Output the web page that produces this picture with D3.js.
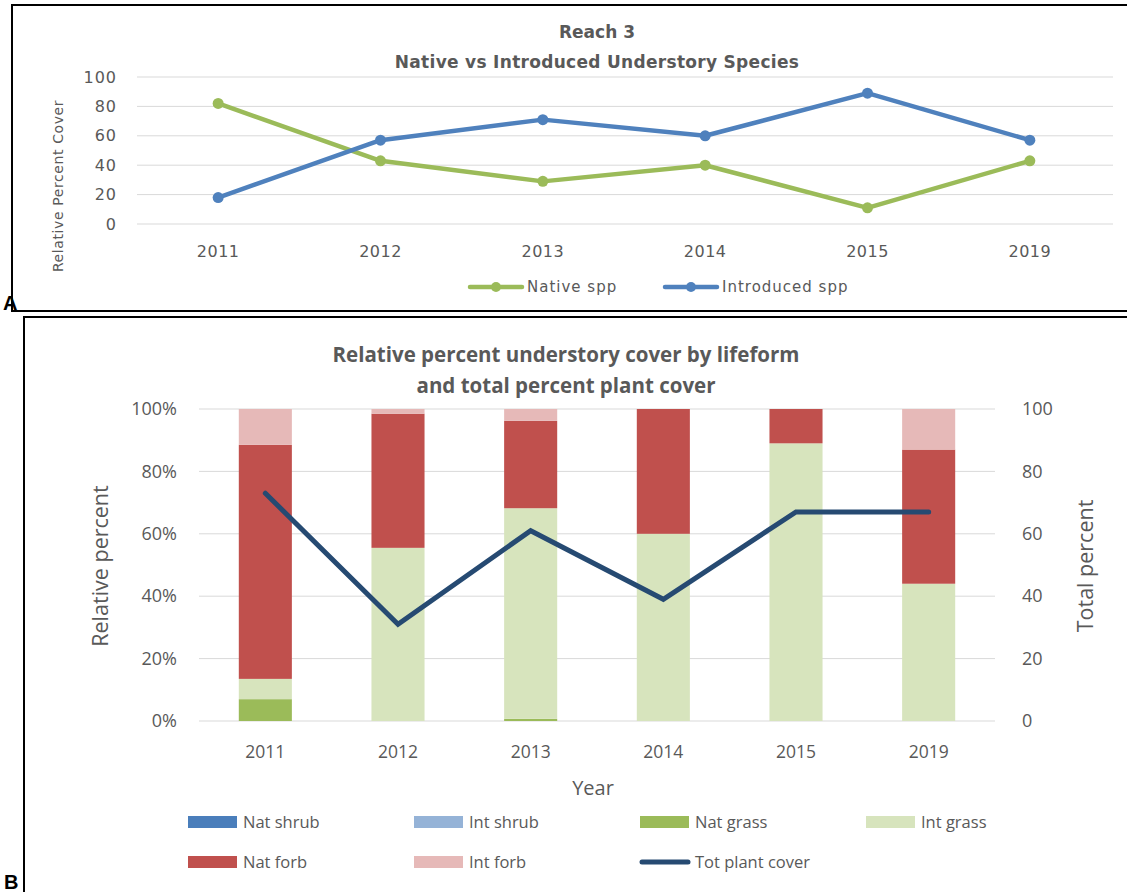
<!DOCTYPE html>
<html>
<head>
<meta charset="utf-8">
<script src="https://cdn.jsdelivr.net/npm/d3@7"></script>
<style>
  body { margin: 0; background: #fff; }
  svg { display: block; }
  .panel-a text { font-family: "DejaVu Sans", sans-serif; fill: #595959; }
  .panel-b text { font-family: "Open Sans", sans-serif; fill: #595959; }
</style>
</head>
<body>
<svg id="chart" width="1127" height="892"></svg>
<script>
// Panel A data
const years = ["2011", "2012", "2013", "2014", "2015", "2019"];
const nativeSpp = [82, 43, 29, 40, 11, 43];
const introducedSpp = [18, 57, 71, 60, 89, 57];
const topTicks = [0, 20, 40, 60, 80, 100];

// Panel B data (relative percent, stacked bottom to top)
const lifeforms = ["Nat shrub", "Int shrub", "Nat grass", "Int grass", "Nat forb", "Int forb"];
const natShrub = [0, 0, 0, 0, 0, 0];
const intShrub = [0, 0, 0, 0, 0, 0];
const natGrass = [7, 0, 0.7, 0, 0, 0];
const intGrass = [6.5, 55.5, 67.5, 60, 89, 44];
const natForb = [75, 43, 28, 40, 11, 43];
const intForb = [11.5, 1.5, 3.8, 0, 0, 13];
const totPlantCover = [73, 31, 61, 39, 67, 67];
const leftTicks = [0, 0.2, 0.4, 0.6, 0.8, 1];
const rightTicks = [0, 20, 40, 60, 80, 100];

const lifeColors = ["#4a7ebb", "#95b3d7", "#9bbb59", "#d7e4bd", "#c0504d", "#e6b9b8"];
const grid = "#d9d9d9";

const svg = d3.select("#chart");

// panel frames
svg.append("rect").attr("x", 12).attr("y", 5).attr("width", 1130).attr("height", 306)
  .attr("fill", "none").attr("stroke", "#000").attr("stroke-width", 2);
svg.append("rect").attr("x", 24).attr("y", 317).attr("width", 1120).attr("height", 600)
  .attr("fill", "none").attr("stroke", "#000").attr("stroke-width", 2);
svg.append("text").attr("x", 3).attr("y", 310).text("A")
  .attr("font-family", "Liberation Sans, Arial, sans-serif").attr("font-weight", "bold").attr("font-size", 20);
svg.append("text").attr("x", 4).attr("y", 889).text("B")
  .attr("font-family", "Liberation Sans, Arial, sans-serif").attr("font-weight", "bold").attr("font-size", 20);

// ---------- Panel A ----------
const panelA = svg.append("g").attr("class", "panel-a");

const xA = d3.scaleBand().domain(years).range([137, 1111]);
const yA = d3.scaleLinear().domain([0, 100]).range([224, 77]);
const cx = d => xA(d) + xA.bandwidth() / 2;

panelA.append("g").selectAll("line").data(topTicks).join("line")
  .attr("x1", 137).attr("x2", 1113)
  .attr("y1", d => yA(d)).attr("y2", d => yA(d))
  .attr("stroke", grid).attr("stroke-width", 1);

panelA.append("text").attr("x", 597).attr("y", 38).attr("text-anchor", "middle")
  .attr("font-weight", "bold").attr("font-size", 17).text("Reach 3");
panelA.append("text").attr("x", 597).attr("y", 68).attr("text-anchor", "middle")
  .attr("font-weight", "bold").attr("font-size", 17).attr("letter-spacing", 0.3)
  .text("Native vs Introduced Understory Species");

const yAxisA = panelA.append("g").attr("transform", "translate(137,0)")
  .call(d3.axisLeft(yA).tickValues(topTicks).tickSize(0).tickPadding(20));
yAxisA.select(".domain").remove();
yAxisA.selectAll("text").attr("font-size", 16).attr("letter-spacing", 1)
  .attr("font-family", null).attr("fill", null);

const xAxisA = panelA.append("g").attr("transform", "translate(0,224)")
  .call(d3.axisBottom(xA).tickSize(0).tickPadding(22));
xAxisA.select(".domain").remove();
xAxisA.selectAll("text").attr("font-size", 16).attr("letter-spacing", 0.5)
  .attr("font-family", null).attr("fill", null);

panelA.append("text").attr("transform", "translate(63,186) rotate(-90)")
  .attr("text-anchor", "middle").attr("font-size", 14).attr("letter-spacing", 0.6)
  .text("Relative Percent Cover");

const lineA = d3.line().x((d, i) => cx(years[i])).y(d => yA(d));
const seriesA = [
  { name: "Native spp", values: nativeSpp, color: "#9bbb59", lx: 470 },
  { name: "Introduced spp", values: introducedSpp, color: "#4f81bd", lx: 665 }
];
seriesA.forEach(s => {
  panelA.append("path").datum(s.values).attr("d", lineA)
    .attr("fill", "none").attr("stroke", s.color).attr("stroke-width", 4.5)
    .attr("stroke-linejoin", "round");
  panelA.append("g").selectAll("circle").data(s.values).join("circle")
    .attr("cx", (d, i) => cx(years[i])).attr("cy", d => yA(d)).attr("r", 5.5)
    .attr("fill", s.color);
  // legend
  panelA.append("line").attr("x1", s.lx).attr("x2", s.lx + 52).attr("y1", 287).attr("y2", 287)
    .attr("stroke", s.color).attr("stroke-width", 4.5).attr("stroke-linecap", "round");
  panelA.append("circle").attr("cx", s.lx + 26).attr("cy", 287).attr("r", 5).attr("fill", s.color);
  panelA.append("text").attr("x", s.lx + 57).attr("y", 287).attr("dy", "0.35em")
    .attr("font-size", 15).attr("letter-spacing", 1).text(s.name);
});

// ---------- Panel B ----------
const panelB = svg.append("g").attr("class", "panel-b");

const xB = d3.scaleBand().domain(years).range([199, 995]);
const yB = d3.scaleLinear().domain([0, 1]).range([721, 409]);
const yR = d3.scaleLinear().domain([0, 100]).range([721, 409]);
const barW = xB.bandwidth() * 0.4;

panelB.append("g").selectAll("line").data(leftTicks).join("line")
  .attr("x1", 199).attr("x2", 995)
  .attr("y1", d => yB(d)).attr("y2", d => yB(d))
  .attr("stroke", grid).attr("stroke-width", 1);

panelB.append("text").attr("x", 566).attr("y", 362).attr("text-anchor", "middle")
  .attr("font-weight", "bold").attr("font-size", 20.5).text("Relative percent understory cover by lifeform");
panelB.append("text").attr("x", 566).attr("y", 393).attr("text-anchor", "middle")
  .attr("font-weight", "bold").attr("font-size", 20.5).text("and total percent plant cover");

// stacked bars
const rows = years.map((y, i) => ({
  year: y,
  "Nat shrub": natShrub[i], "Int shrub": intShrub[i], "Nat grass": natGrass[i],
  "Int grass": intGrass[i], "Nat forb": natForb[i], "Int forb": intForb[i]
}));
const stacked = d3.stack().keys(lifeforms)(rows);
const colorB = d3.scaleOrdinal().domain(lifeforms).range(lifeColors);

panelB.append("g").selectAll("g").data(stacked).join("g")
  .attr("fill", d => colorB(d.key))
  .selectAll("rect").data(d => d).join("rect")
  .attr("x", d => xB(d.data.year) + (xB.bandwidth() - barW) / 2)
  .attr("width", barW)
  .attr("y", d => yB(d[1] / 100))
  .attr("height", d => yB(d[0] / 100) - yB(d[1] / 100));

// total plant cover line
panelB.append("path").datum(totPlantCover)
  .attr("d", d3.line().x((d, i) => xB(years[i]) + xB.bandwidth() / 2).y(d => yR(d)))
  .attr("fill", "none").attr("stroke", "#264a72").attr("stroke-width", 5)
  .attr("stroke-linecap", "round").attr("stroke-linejoin", "miter");

const yAxisB = panelB.append("g").attr("transform", "translate(199,0)")
  .call(d3.axisLeft(yB).tickValues(leftTicks).tickFormat(d3.format(".0%")).tickSize(0).tickPadding(22));
yAxisB.select(".domain").remove();
yAxisB.selectAll("text").attr("font-size", 18).attr("font-family", null).attr("fill", null);

const yAxisR = panelB.append("g").attr("transform", "translate(995,0)")
  .call(d3.axisRight(yR).tickValues(rightTicks).tickSize(0).tickPadding(27));
yAxisR.select(".domain").remove();
yAxisR.selectAll("text").attr("font-size", 18).attr("font-family", null).attr("fill", null);

const xAxisB = panelB.append("g").attr("transform", "translate(0,721)")
  .call(d3.axisBottom(xB).tickSize(0).tickPadding(25));
xAxisB.select(".domain").remove();
xAxisB.selectAll("text").attr("font-size", 17.5).attr("font-family", null).attr("fill", null);

panelB.append("text").attr("x", 593).attr("y", 795).attr("text-anchor", "middle")
  .attr("font-size", 20).text("Year");
panelB.append("text").attr("transform", "translate(108,566) rotate(-90)")
  .attr("text-anchor", "middle").attr("font-size", 21.5).text("Relative percent");
panelB.append("text").attr("transform", "translate(1093,566) rotate(-90)")
  .attr("text-anchor", "middle").attr("font-size", 21.5).text("Total percent");

// legend
const legendB = lifeforms.map((n, i) => ({ name: n, color: lifeColors[i], type: "rect" }))
  .concat([{ name: "Tot plant cover", color: "#264a72", type: "line" }]);
const leg = panelB.append("g").selectAll("g").data(legendB).join("g")
  .attr("transform", (d, i) => `translate(${188 + (i % 4) * 226},${i < 4 ? 822 : 862})`);
leg.filter(d => d.type === "rect").append("rect")
  .attr("x", 0).attr("y", -6).attr("width", 49).attr("height", 12).attr("fill", d => d.color);
leg.filter(d => d.type === "line").append("line")
  .attr("x1", 2).attr("x2", 48).attr("y1", 0).attr("y2", 0)
  .attr("stroke", d => d.color).attr("stroke-width", 5).attr("stroke-linecap", "round");
leg.append("text").attr("x", 55).attr("dy", "0.35em").attr("font-size", 16.5).text(d => d.name);
</script>
</body>
</html>
